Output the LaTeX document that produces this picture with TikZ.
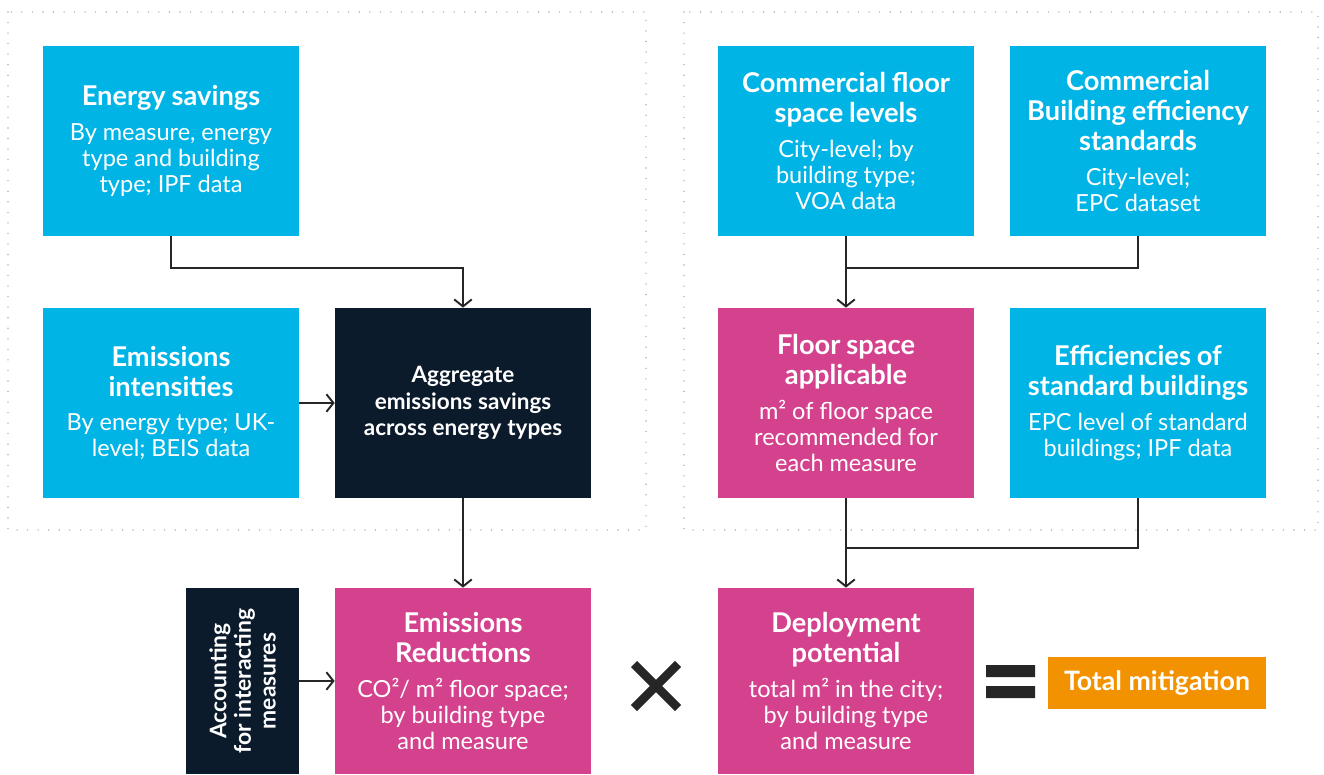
\documentclass[tikz,border=0pt]{standalone}
\usepackage{fontspec}
\setmainfont{Lato}
\usetikzlibrary{arrows.meta}
\definecolor{boxblue}{HTML}{00B4E6}
\definecolor{boxpink}{HTML}{D4428E}
\definecolor{boxnavy}{HTML}{0C1B2B}
\definecolor{boxorange}{HTML}{F39200}
\definecolor{linkgray}{HTML}{262626}
\definecolor{framegray}{HTML}{B0B0B0}
\newcommand{\hd}[1]{{\fontsize{15.5}{17}\selectfont\bfseries #1\par}\vspace{5pt}}
\newcommand{\bd}[1]{{\fontsize{13.4}{14.7}\selectfont #1\par}}
\newcommand{\ag}[1]{{\fontsize{12.8}{15}\selectfont\bfseries #1\par}}
\begin{document}
\begin{tikzpicture}[x=0.02cm,y=-0.02cm,
  block/.style={fill=#1,text=white,minimum width=5.12cm,minimum height=3.8cm,
    text width=5cm,align=center,inner sep=0pt},
  link/.style={draw=linkgray,line width=1.1pt},
  frame/.style={draw=framegray,line width=0.9pt,dash pattern=on 0pt off 6pt,line cap=round},
  >={Straight Barb[length=4pt,width=10pt]}]
\useasboundingbox (0,0) rectangle (1324,774);
% Frames
\path[frame] (8,12) rectangle (646,530);
\path[frame] (684,12) rectangle (1318,530);
% Left group
\node[block=boxblue] (esav) at (171,141) {\hd{Energy savings}\bd{By measure, energy\\type and building\\type; IPF data}};
\node[block=boxblue] (eint) at (171,403) {\hd{Emissions\\intensities}\bd{By energy type; UK-\\level; BEIS data}};
\node[block=boxnavy] (aggr) at (463,403) {\ag{Aggregate\\emissions savings\\across energy types}};
% Right group
\node[block=boxblue] (cfsl) at (846,141) {\hd{Commercial floor\\space levels}\bd{City-level; by\\building type;\\VOA data}};
\node[block=boxblue] (cbes) at (1138,141) {\hd{Commercial\\Building efficiency\\standards}\bd{City-level;\\EPC dataset}};
\node[block=boxpink] (fsap) at (846,403) {\hd{Floor space\\applicable}\bd{m² of floor space\\recommended for\\each measure}};
\node[block=boxblue] (effs) at (1138,403) {\hd{Efficiencies of\\standard buildings}\bd{EPC level of standard\\buildings; IPF data}};
% Bottom row
\node[fill=boxnavy,text=white,rotate=90,minimum width=3.72cm,minimum height=2.26cm,
  align=center,inner sep=0pt,font=\fontsize{13}{14}\selectfont\bfseries] (acct) at (242.5,681)
  {Accounting\\for interacting\\measures};
\node[block=boxpink,minimum height=3.72cm] (ered) at (463,681) {\hd{Emissions\\Reductions}\bd{CO²/ m² floor space;\\by building type\\and measure}};
\node[block=boxpink,minimum height=3.72cm] (depl) at (846,681) {\hd{Deployment\\potential}\bd{total m² in the city;\\by building type\\and measure}};
\node[fill=boxorange,text=white,minimum width=4.36cm,minimum height=1.04cm,inner sep=0pt,
  font=\fontsize{15.2}{16}\selectfont\bfseries] (totl) at (1157,682.5) {Total mitigation};
% Times and equals
\draw[linkgray,line width=5pt] (634,664) -- (678,708) (634,708) -- (678,664);
\fill[linkgray] (986,665) rectangle (1035,677) (986,686) rectangle (1035,698);
% Links
\coordinate (jtop) at (846,268);
\coordinate (jbot) at (846,548);
\draw[link,->] (esav.south) -- ++(0,32) -| (aggr.north);
\draw[link,->] (eint.east) -- (aggr.west);
\draw[link,->] (aggr.south) -- (ered.north);
\draw[link,->] (acct.south) -- (ered.west);
\draw[link,->] (cfsl.south) -- (fsap.north);
\draw[link] (cbes.south) |- (jtop);
\draw[link,->] (fsap.south) -- (depl.north);
\draw[link] (effs.south) |- (jbot);
\end{tikzpicture}
\end{document}
